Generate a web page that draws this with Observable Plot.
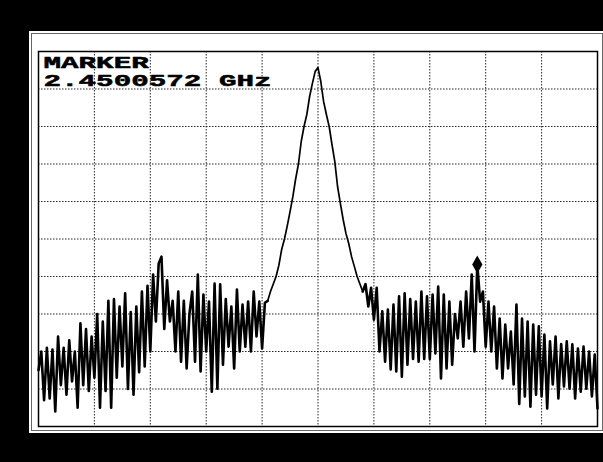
<!DOCTYPE html>
<html>
<head>
<meta charset="utf-8">
<script src="https://cdn.jsdelivr.net/npm/d3@7"></script>
<script src="https://cdn.jsdelivr.net/npm/@observablehq/plot@0.6"></script>
<style>
  html, body { margin: 0; padding: 0; background: #000; }
  #wrap { position: relative; width: 603px; height: 462px; background: #000; overflow: hidden; }
  #panel { position: absolute; left: 29px; top: 31px; width: 576px; height: 402px; background: #fff;
           outline: 1px solid #666; outline-offset: -3px; }
  #chart { position: absolute; left: 0; top: 0; }
</style>
</head>
<body>
<div id="wrap"><div id="panel"></div><div id="chart"></div></div>
<script>
// Sweep settings (MHz)
const sweepStart = 2400;
const sweepStop = 2500;
const sweepStep = 0.5;

// Trace levels (dB, 10 dB/div, reference at top)
const levels = [
  -85, -80, -93, -79, -92.5, -79.5, -96, -76, -89, -79,
  -91.5, -77, -88, -80, -95, -72.5, -89, -74, -90.5, -76,
  -87, -70, -95, -72, -90.5, -66.5, -95, -66, -87, -68,
  -84, -64.5, -90, -69.5, -91.5, -68, -85.5, -64, -84, -62.5,
  -80, -59.5, -72, -56.5, -54.7, -74, -61, -72, -66.5, -80,
  -64, -82.7, -66.5, -84.5, -70, -64, -82.7, -59.5, -85.3, -64.8,
  -80, -66.7, -90.7, -61.9, -89.9, -62.1, -83.5, -66, -78.7, -68,
  -84.5, -63.5, -80, -67.5, -78.7, -66.7, -80, -64, -76, -66.7,
  -79.2, -67, -66.5, -64, -62, -60, -57, -52.8, -50, -46.5,
  -42.7, -38.7, -34, -30, -24, -20, -16.8, -12, -8.5, -5.3,
  -4.3, -8, -13.3, -16.8, -20, -24.8, -29.3, -36, -40.5, -44.8,
  -48.5, -51.2, -54.7, -57.3, -60, -62, -64, -62, -68, -63,
  -71.5, -63, -80, -69.3, -82.7, -68.8, -84.8, -67.5, -85.3, -65.3,
  -86.7, -64.5, -83.5, -66, -82, -66.7, -82.7, -64, -82, -65.3,
  -82, -64.8, -80.5, -62.7, -87.2, -64.8, -84.5, -66.7, -83.5, -70,
  -76.5, -66.7, -78.7, -64, -76.5, -59.5, -80, -56.8, -66.7, -64,
  -78.7, -66.7, -80, -68, -84.5, -71.2, -87.2, -72.8, -84.5, -74.7,
  -88.8, -67.5, -94, -71.2, -92, -72, -94.7, -72.8, -91.5, -73.3,
  -92, -75.5, -95.2, -77.3, -88.8, -76, -92.5, -78, -89.3, -77.3,
  -89.9, -78.1, -92.5, -79.2, -90.7, -78.7, -89.9, -80, -92, -80.8,
  -95.2
];

// Index range of the carrier lobe (smooth part of the trace)
const lobeStart = 82;
const lobeEnd = 116;

// Marker
const markerFreq = [2478.5];
const markerLevel = [-56.8];
const markerLines = ["MARKER", "2.4500572 GHz"];

// Graticule lines
const xGrid = [2410, 2420, 2430, 2440, 2450, 2460, 2470, 2480, 2490];
const yGrid = [-10, -20, -30, -40, -50, -60, -70, -80, -90];

const trace = levels.map((v, i) => ({f: sweepStart + i * sweepStep, db: v, i}));
const noiseL = trace.filter(d => d.i <= lobeStart);
const lobe = trace.filter(d => d.i >= lobeStart && d.i <= lobeEnd);
const noiseR = trace.filter(d => d.i >= lobeEnd);
const marker = markerFreq.map((f, i) => ({f, db: markerLevel[i]}));

const font = "Liberation Mono, DejaVu Sans Mono, monospace";

const plot = Plot.plot({
  width: 603,
  height: 462,
  marginLeft: 38,
  marginRight: 6,
  marginTop: 51,
  marginBottom: 36,
  style: {background: "transparent"},
  x: {domain: [sweepStart, sweepStop], axis: null},
  y: {domain: [-100, 0], axis: null},
  marks: [
    Plot.ruleX(xGrid, {stroke: "#000", strokeWidth: 1, strokeDasharray: "1.5,1.5", strokeOpacity: 0.85}),
    Plot.ruleY(yGrid, {stroke: "#000", strokeWidth: 1, strokeDasharray: "1.5,1.5", strokeOpacity: 0.85}),
    Plot.frame({stroke: "#000", strokeWidth: 1.5}),
    Plot.line(lobe, {x: "f", y: "db", stroke: "#000", strokeWidth: 1.7, strokeLinejoin: "round"}),
    Plot.line(noiseL, {x: "f", y: "db", stroke: "#000", strokeWidth: 2.6, strokeLinejoin: "round"}),
    Plot.line(noiseR, {x: "f", y: "db", stroke: "#000", strokeWidth: 2.6, strokeLinejoin: "round"}),
    Plot.dot(marker, {x: "f", y: "db", symbol: "diamond", r: 4.5, fill: "#000", stroke: "#000"}),
    Plot.text([markerLines[0]], {
      text: d => d, frameAnchor: "top-left", lineAnchor: "bottom", textAnchor: "start",
      dx: 5, dy: 16, fontSize: 17, fontWeight: "bold", fontFamily: font,
      fill: "#000", stroke: "#000", strokeWidth: 0.5
    }),
    Plot.text([markerLines[1]], {
      text: d => d, frameAnchor: "top-left", lineAnchor: "bottom", textAnchor: "start",
      dx: 5, dy: 34, fontSize: 17, fontWeight: "bold", fontFamily: font,
      fill: "#000", stroke: "#000", strokeWidth: 0.5
    })
  ]
});

plot.querySelectorAll('g[aria-label="text"] text').forEach(t => {
  const tr = t.getAttribute("transform") || "";
  t.setAttribute("transform", tr + " scale(1.72,1)");
});

document.getElementById("chart").appendChild(plot);
</script>
</body>
</html>
